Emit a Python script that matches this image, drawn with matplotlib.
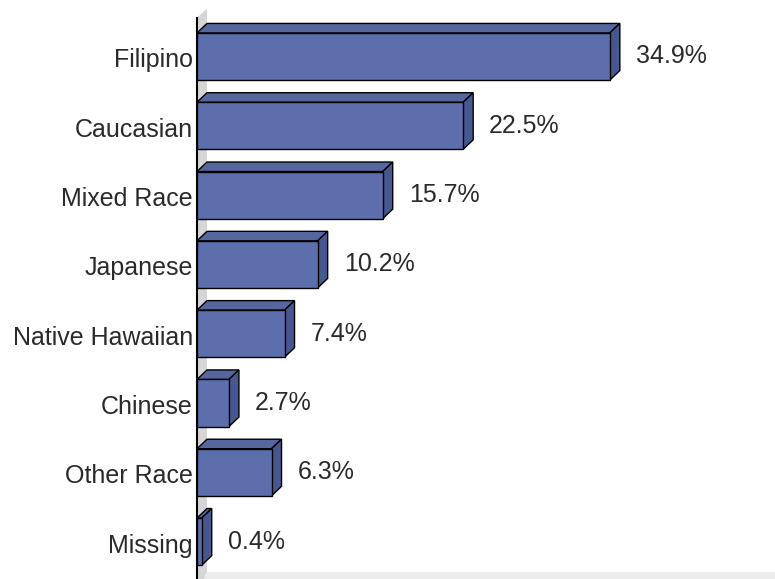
import numpy as np
import matplotlib.pyplot as plt
from matplotlib.patches import Polygon

# =====================================================
# Data
# =====================================================

categories = [
    "Filipino",
    "Caucasian",
    "Mixed Race",
    "Japanese",
    "Native Hawaiian",
    "Chinese",
    "Other Race",
    "Missing",
]

percents = [34.9, 22.5, 15.7, 10.2, 7.4, 2.7, 6.3, 0.4]

value_labels = ["34.9%", "22.5%", "15.7%", "10.2%", "7.4%", "2.7%", "6.3%", "0.4%"]

# =====================================================
# Style
# =====================================================

plt.rcParams["font.family"] = ["Liberation Sans", "DejaVu Sans"]

front_color = "#5c6eac"
top_color = "#56679f"
side_color = "#475790"
wall_color = "#d6d6d6"
floor_color = "#ececec"
text_color = "#2a2a2a"

bar_h = 0.68
dx = 0.845   # depth in x (percent units)
dy = 0.137   # depth in y (category units)

x_max = 48.86
y_top = -0.815
y_bottom = 7.54

# =====================================================
# Plot
# =====================================================

fig = plt.figure(figsize=(7.75, 5.79), dpi=100)
ax = fig.add_axes([197 / 775, 0, 578 / 775, 1])

ax.set_xlim(0, x_max)
ax.set_ylim(y_bottom, y_top)
ax.axis("off")

# wall and floor
wall_top = -0.556
floor_y = 7.44

ax.add_patch(Polygon(
    [(0, wall_top), (dx, wall_top - dy), (dx, floor_y), (0, y_bottom + 0.2)],
    closed=True, facecolor=wall_color, edgecolor="none", zorder=1
))

ax.add_patch(Polygon(
    [(dx, floor_y), (x_max, floor_y), (x_max, y_bottom + 0.2), (0, y_bottom + 0.2)],
    closed=True, facecolor=floor_color, edgecolor="none", zorder=1
))

ax.plot([0, 0], [wall_top, y_bottom + 0.2], color="black", linewidth=1.5,
        zorder=2, clip_on=False)

# bars
ypos = np.arange(len(categories))

for y, v in zip(ypos, percents):

    top = y - bar_h / 2
    bottom = y + bar_h / 2

    ax.add_patch(Polygon(
        [(0, top), (v, top), (v + dx, top - dy), (dx, top - dy)],
        closed=True, facecolor=top_color, edgecolor="black",
        linewidth=1.0, zorder=3
    ))

    ax.add_patch(Polygon(
        [(v, top), (v + dx, top - dy), (v + dx, bottom - dy), (v, bottom)],
        closed=True, facecolor=side_color, edgecolor="black",
        linewidth=1.0, zorder=3
    ))

ax.barh(
    ypos,
    percents,
    height=bar_h,
    left=0,
    color=front_color,
    edgecolor="black",
    linewidth=1.0,
    zorder=4
)

# labels
for y, v, name, lab in zip(ypos, percents, categories, value_labels):

    ax.text(-0.34, y + 0.159, name, ha="right", va="baseline",
            fontsize=18, color=text_color, clip_on=False)

    ax.text(v + dx + 1.35, y + 0.10, lab, ha="left", va="baseline",
            fontsize=18, color=text_color)

plt.savefig("out.png", dpi=100)
